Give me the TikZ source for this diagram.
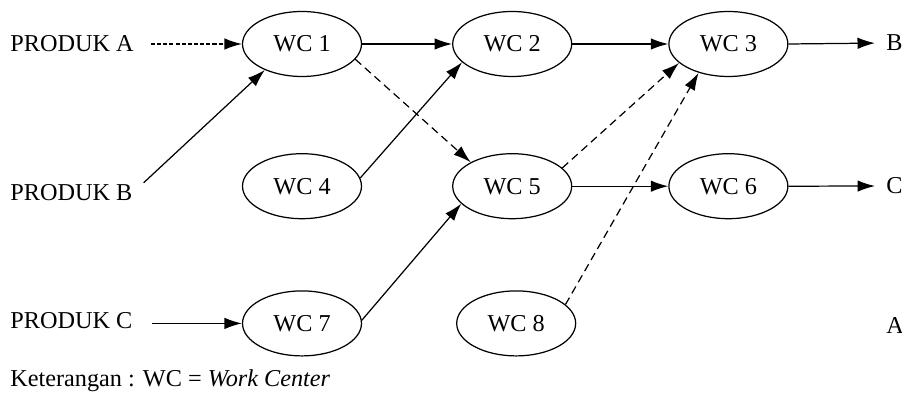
\documentclass[tikz,border=0pt]{standalone}
\usepackage{fontspec}
\setmainfont{Liberation Serif}
\usetikzlibrary{shapes.geometric, arrows.meta, positioning}
\tikzset{
  wc/.style={ellipse, draw=black, line width=0.7pt, minimum width=2.38cm, minimum height=1.3cm,
             inner sep=0pt, font=\fontsize{13.8}{16}\selectfont},
  teks/.style={font=\fontsize{13.8}{16}\selectfont, inner sep=0pt, anchor=west},
  arrow/.style={line width=0.7pt, -{Latex[length=3.5mm,width=2.3mm]}},
  putus/.style={arrow, dash pattern=on 4.5pt off 2.8pt},
  titik/.style={arrow, dash pattern=on 2.3pt off 1.2pt}
}

\begin{document}
\begin{tikzpicture}[x=0.02cm, y=-0.02cm]
  \useasboundingbox (0,0) rectangle (902,401);
  % pusat kerja
  \node (wc1) [wc] at (302,44) {WC 1};
  \node (wc2) [wc, right=1.8cm of wc1] {WC 2};
  \node (wc3) [wc, right=1.92cm of wc2] {WC 3};
  \node (wc4) [wc, below=1.52cm of wc1] {WC 4};
  \node (wc5) [wc, right=1.8cm of wc4] {WC 5};
  \node (wc6) [wc, right=1.92cm of wc5] {WC 6};
  \node (wc7) [wc, below=1.42cm of wc4] {WC 7};
  \node (wc8) [wc, below=1.42cm of wc5, xshift=0.08cm] {WC 8};
  % produk
  \node (pa) [teks] at (10,44) {PRODUK A};
  \node (pb) [teks] at (10,193) {PRODUK B};
  \node (pc) [teks] at (10,321) {PRODUK C};
  \node (lb) [teks] at (886,43) {B};
  \node (lc) [teks] at (886,186) {C};
  \node (la) [teks] at (886,325) {A};
  \node (ket) [teks] at (10,381) {Keterangan : WC = \textit{Work Center}};
  % aliran
  \draw [titik, shorten <=0.34cm] (pa.east) -- (wc1.west);
  \draw [arrow, shorten <=0.3cm] (pb.east) -- (wc1.215);
  \draw [arrow, shorten <=0.38cm] (pc.east |- wc7.west) -- (wc7.west);
  \draw [arrow] (wc1.east) -- (wc2.west);
  \draw [putus] (wc1.344) -- (wc5.150);
  \draw [arrow] (wc4.8) -- (wc2.200);
  \draw [arrow] (wc2.east) -- (wc3.west);
  \draw [arrow, shorten >=0.22cm] (wc3.east) -- (lb.west);
  \draw [arrow] (wc5.east) -- (wc6.west);
  \draw [arrow, shorten >=0.22cm] (wc6.east) -- (lc.west);
  \draw [putus] (wc5.20) -- (wc3.201);
  \draw [putus] (wc8.21) -- (wc3.224);
  \draw [arrow] (wc7.3) -- (wc5.199);
\end{tikzpicture}
\end{document}
